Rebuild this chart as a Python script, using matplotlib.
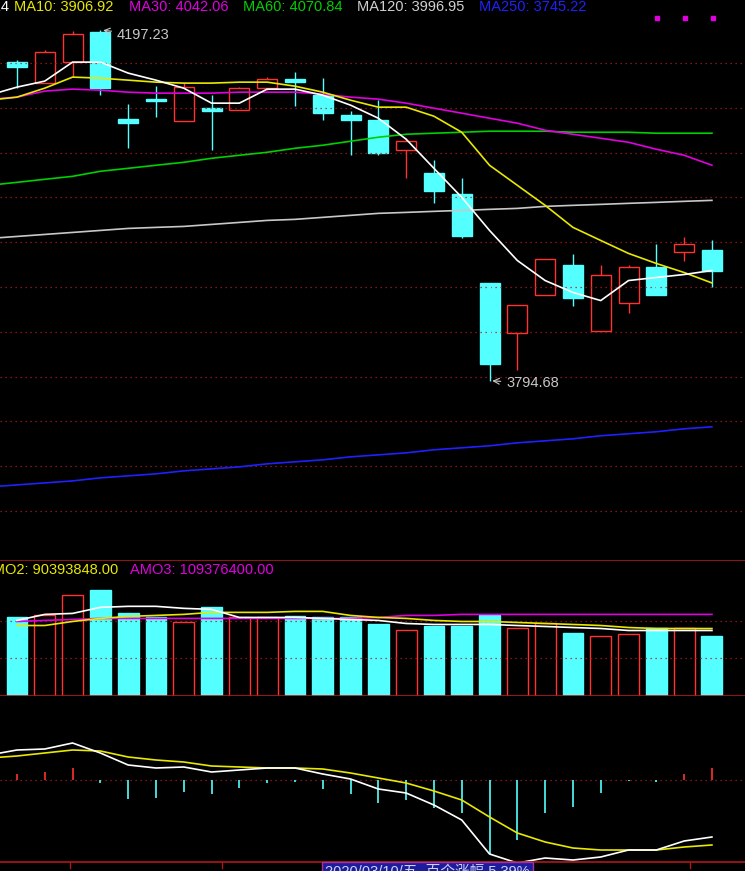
import matplotlib
matplotlib.use("Agg")
import matplotlib.pyplot as plt
from matplotlib.patches import Rectangle
import numpy as np

plt.rcParams['font.family'] = ['Liberation Sans', 'Noto Sans CJK SC', 'DejaVu Sans']

# 日K数据
opens  = [4160.4, 4136.3, 4160.4, 4195.5, 4094.9, 4116.7, 4092.6, 4107.5, 4105.2, 4130.5, 4140.9, 4122.5, 4099.5,
          4093.7, 4059.2, 4032.8, 4008.6, 3906.3, 3849.9, 3893.6, 3927.0, 3852.2, 3884.4, 3925.8, 3941.9, 3944.2]
closes = [4154.7, 4171.9, 4192.6, 4130.5, 4090.3, 4115.6, 4131.7, 4104.1, 4130.5, 4140.9, 4137.4, 4101.8, 4093.7,
          4055.8, 4069.6, 4012.1, 3960.3, 3814.3, 3882.1, 3933.9, 3890.2, 3915.5, 3925.8, 3893.6, 3951.1, 3921.2]
highs  = [4162.7, 4174.2, 4195.8, 4197.23, 4112.1, 4132.8, 4136.3, 4122.5, 4131.7, 4143.2, 4148.9, 4142.0, 4104.1,
          4116.7, 4073.0, 4047.7, 4027.0, 3907.4, 3882.1, 3933.9, 3939.6, 3927.0, 3927.0, 3951.1, 3959.2, 3955.7]
lows   = [4130.5, 4136.3, 4143.2, 4122.5, 4061.5, 4097.2, 4092.6, 4059.2, 4105.2, 4128.2, 4109.8, 4093.7, 4053.5,
          4053.5, 4027.0, 3998.3, 3958.0, 3794.68, 3807.4, 3893.6, 3881.0, 3852.2, 3872.9, 3893.6, 3931.6, 3901.7]

# 均线 (第一个值是前一日)
ma5   = [4122.5, 4131.7, 4138.6, 4160.4, 4160.4, 4147.8, 4139.7, 4130.5, 4113.3, 4113.3, 4129.4, 4129.4, 4122.5, 4111.0,
         4096.0, 4071.9, 4038.5, 4005.2, 3967.2, 3932.7, 3909.7, 3896.0, 3886.7, 3909.7, 3913.2, 3916.6, 3921.2]
ma10  = [4116.7, 4120.2, 4130.5, 4143.2, 4142.0, 4139.7, 4137.4, 4136.3, 4136.3, 4137.4, 4137.4, 4132.8, 4125.9, 4116.7,
         4108.7, 4108.7, 4098.3, 4079.9, 4042.0, 4019.0, 3996.0, 3970.7, 3955.7, 3940.8, 3929.3, 3918.9, 3906.92]
ma30  = [4117.9, 4120.2, 4127.1, 4129.4, 4128.2, 4125.9, 4124.8, 4124.8, 4124.8, 4125.9, 4125.9, 4125.9, 4123.6, 4120.2,
         4117.9, 4113.3, 4107.5, 4101.8, 4096.0, 4090.3, 4082.2, 4077.6, 4073.0, 4068.4, 4060.4, 4053.5, 4042.06]
ma60  = [4019.0, 4022.4, 4025.9, 4029.3, 4035.1, 4038.5, 4042.0, 4045.4, 4050.0, 4053.5, 4056.9, 4061.5, 4065.0, 4069.6,
         4074.2, 4077.6, 4078.8, 4079.9, 4081.1, 4081.1, 4081.1, 4079.9, 4079.9, 4079.9, 4078.8, 4078.8, 4078.8]
ma120 = [3958.0, 3960.3, 3962.6, 3964.9, 3967.2, 3969.5, 3970.7, 3971.8, 3974.1, 3976.4, 3978.7, 3979.9, 3982.2, 3984.5,
         3986.8, 3987.9, 3989.1, 3990.2, 3991.4, 3992.5, 3994.8, 3996.0, 3997.1, 3998.3, 3999.4, 4000.6, 4001.7]
ma250 = [3672.8, 3675.1, 3677.4, 3679.7, 3683.2, 3685.5, 3687.8, 3691.2, 3693.5, 3695.8, 3699.3, 3701.6, 3703.9, 3707.3,
         3709.6, 3711.9, 3715.4, 3717.7, 3720.0, 3723.4, 3725.7, 3728.0, 3731.5, 3733.8, 3736.1, 3739.5, 3741.8]

# 成交额 (百万)
amo  = [105.3, 108, 135, 141.8, 110.7, 105.3, 98.6, 118.8, 105.3, 105.3, 106.7, 105.3, 105.3,
        95.9, 87.8, 94.5, 94.5, 108, 91.8, 97.2, 85.1, 81, 83.7, 90.5, 90.5, 81]
amo1 = [101.3, 109.4, 110.7, 118.8, 120.2, 120.2, 117.5, 116.1, 105.3, 105.3, 105.3, 104, 102.6,
        101.3, 97.2, 95.9, 95.9, 95.9, 94.5, 93.2, 91.8, 90.5, 87.8, 87.8, 87.8, 87.8]
amo2 = [94.5, 94.5, 99.9, 104, 106.7, 108, 109.4, 112.1, 112.1, 112.1, 113.4, 113.4, 108,
        105.3, 104, 101.3, 99.9, 99.9, 98.6, 97.2, 95.9, 94.5, 91.8, 90.5, 90.5, 90.4]
amo3 = [99.9, 101.3, 102.6, 104, 104, 104, 104, 104, 104, 104, 104, 104, 104,
        105.3, 108, 108, 109.4, 109.4, 109.4, 109.4, 109.4, 109.4, 109.4, 109.4, 109.4, 109.4]

# MACD
dif  = [25, 30, 31, 37, 27, 15, 12, 13, 8, 10, 12, 12, 6, 1, -9, -13, -25, -40, -74, -83, -78, -80, -77, -70, -70, -61, -57]
dea  = [22, 24, 27, 30, 29, 23, 20, 18, 14, 13, 12, 12, 11, 7, 2, -3, -11, -20, -37, -53, -62, -68, -70, -70, -70, -67, -65]
macd = [6, 8, 12, -3, -19, -18, -12, -14, -8, -3, -2, -9, -14, -23, -20, -28, -33, -74, -60, -33, -27, -13, -1, -2, 6, 12]

price_grid = [4159.3 - k * 51.4 for k in range(11)]
amo_grid = [51.3, 99.9]

RED = '#ff3232'
CYAN = '#54ffff'

n = len(opens)
x = np.arange(n)
xm = np.arange(-1, n)
xlim = (-0.61, 26.19)

fig = plt.figure(figsize=(7.45, 8.71), dpi=100, facecolor='black')
H = 871.0
ax = fig.add_axes([0, 1 - 556 / H, 1, 556 / H])
axv = fig.add_axes([0, 1 - 696 / H, 1, 136 / H])
axm = fig.add_axes([0, 9 / H, 1, 162 / H])
for a in (ax, axv, axm):
    a.set_facecolor('none')
    a.set_xlim(*xlim)
    a.axis('off')

# 主图
ax.set_ylim(3593.5, 4231.7)
for g in price_grid:
    ax.axhline(g, color='#b01c1c', ls=(0, (1, 3)), lw=0.9)
w = 0.72
for i in range(n):
    o, c, h, l = opens[i], closes[i], highs[i], lows[i]
    if c >= o:
        ax.vlines(i, l, o, color=RED, lw=1)
        ax.vlines(i, c, h, color=RED, lw=1)
        ax.add_patch(Rectangle((i - w / 2, o), w, max(c - o, 0.8), fill=False, ec=RED, lw=1))
    else:
        ax.vlines(i, l, h, color=CYAN, lw=1)
        ax.add_patch(Rectangle((i - w / 2, c), w, max(o - c, 2), fc=CYAN, ec=CYAN, lw=1))
ax.plot(xm, ma120, color='#c8c8c8', lw=1.2)
ax.plot(xm, ma250, color='#2020ff', lw=1.2)
ax.plot(xm, ma60, color='#00d000', lw=1.2)
ax.plot(xm, ma30, color='#e000e0', lw=1.2)
ax.plot(xm, ma10, color='#e8e800', lw=1.2)
ax.plot(xm, ma5, color='white', lw=1.2)

ax.annotate('4197.23', xy=(3, 4197.23), xytext=(3.6, 4192), color='#c8c8c8', fontsize=10.5,
            va='center', arrowprops=dict(arrowstyle='->', color='#c8c8c8', lw=0.8))
ax.annotate('3794.68', xy=(17, 3794.68), xytext=(17.6, 3792), color='#c8c8c8', fontsize=10.5,
            va='center', arrowprops=dict(arrowstyle='->', color='#c8c8c8', lw=0.8))

# 顶部指标文字
fs = 10.5
fig.text(9 / 745, 1 - 7 / H, 'MA5: 3921.24', color='white', fontsize=fs, ha='right', va='center')
fig.text(14 / 745, 1 - 7 / H, 'MA10: 3906.92', color='#e8e800', fontsize=fs, va='center')
fig.text(129 / 745, 1 - 7 / H, 'MA30: 4042.06', color='#e000e0', fontsize=fs, va='center')
fig.text(243 / 745, 1 - 7 / H, 'MA60: 4070.84', color='#00d000', fontsize=fs, va='center')
fig.text(357 / 745, 1 - 7 / H, 'MA120: 3996.95', color='#d0d0d0', fontsize=fs, va='center')
fig.text(479 / 745, 1 - 7 / H, 'MA250: 3745.22', color='#2020ff', fontsize=fs, va='center')
for px in (657, 685, 713):
    fig.patches.append(Rectangle((px / 745 - 0.003, 1 - 20 / H), 0.006, 4 / H, color='#e000e0',
                                 transform=fig.transFigure))

# 成交额
axv.set_ylim(0, 182.3)
axv.axhline(182.0, color='#b01818', lw=1.2)
axv.axhline(0, color='#b01818', lw=1.2)
for g in amo_grid:
    axv.axhline(g, color='#b01c1c', ls=(0, (1, 3)), lw=0.9)
bw = 0.75
for i in range(n):
    if closes[i] >= opens[i]:
        axv.add_patch(Rectangle((i - bw / 2, 0), bw, amo[i], fill=False, ec=RED, lw=1))
    else:
        axv.add_patch(Rectangle((i - bw / 2, 0), bw, amo[i], fc=CYAN, ec=CYAN, lw=1))
axv.plot(x, amo3, color='#e000e0', lw=1.2)
axv.plot(x, amo2, color='#e8e800', lw=1.2)
axv.plot(x, amo1, color='white', lw=1.2)
fig.text(-17 / 745, 1 - 570 / H, 'AMO2: 90393848.00', color='#e8e800', fontsize=fs, va='center')
fig.text(130 / 745, 1 - 570 / H, 'AMO3: 109376400.00', color='#e000e0', fontsize=fs, va='center')

# MACD
axm.set_ylim(-82, 80)
axm.axhline(0, color='#b01c1c', ls=(0, (1, 3)), lw=0.9)
cols = [RED if v > 0 else CYAN for v in macd]
axm.vlines(x, 0, macd, colors=cols, lw=1.2)
axm.plot(xm, dea, color='#e8e800', lw=1.2)
axm.plot(xm, dif, color='white', lw=1.2)

# 底部日期栏
fig.add_artist(plt.Line2D([0, 1], [1 - 862 / H, 1 - 862 / H], color='#b01818', lw=1.2))
for px in (70, 222, 690):
    fig.add_artist(plt.Line2D([px / 745, px / 745], [1 - 862 / H, 1 - 868 / H], color='#b01818', lw=1))
fig.text(325 / 745, 1 - 872 / H, '2020/03/10/五  百个涨幅 5.39%', color='#d0d0ff', fontsize=fs,
         va='center', ha='left',
         bbox=dict(boxstyle='square,pad=0.2', fc='#1c1c9c', ec='#b03090', lw=1))

fig.savefig('out.png', dpi=100, facecolor='black')
